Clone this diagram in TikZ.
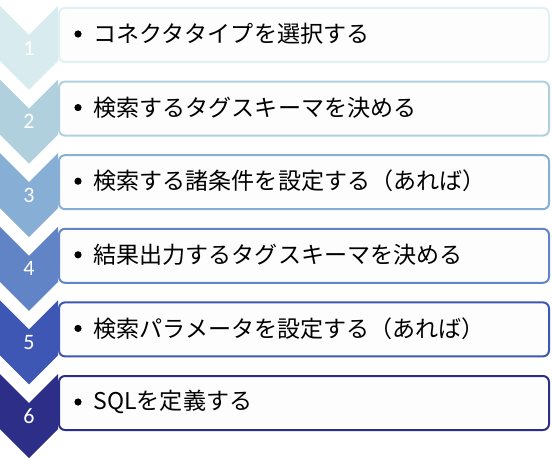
\documentclass[tikz,border=0pt]{standalone}
\usepackage{fontspec}
\setmainfont{Noto Sans CJK JP}
\newfontfamily\numfont{Carlito}
\definecolor{stepone}{RGB}{216,236,240}
\definecolor{steptwo}{RGB}{176,208,222}
\definecolor{stepthree}{RGB}{135,174,212}
\definecolor{stepfour}{RGB}{96,132,198}
\definecolor{stepfive}{RGB}{62,86,180}
\definecolor{stepsix}{RGB}{44,46,136}
\tikzset{
	itembox/.style={fill={rgb, 255:red, 253; green, 253; blue, 253 }, line width=1.5pt, rounded corners=4.5pt},
	stepnum/.style={text=white, font=\numfont\fontsize{16.5}{18}\selectfont},
	itemdot/.style={circle, fill=black, inner sep=0pt, minimum size=5.4pt},
	itemtext/.style={anchor=west, inner sep=0pt, font=\fontsize{17.3}{20}\selectfont}}
\tikzset{every picture/.style={line width=0.75pt}}
\begin{document}
\begin{tikzpicture}[x=0.75pt,y=0.75pt,yscale=-1,xscale=1]
	\path (0,0) rectangle (552,459);

	%Shape: Chevron 1
	\fill [stepone] (0,6) -- (29,35) -- (58,6) -- (58,61) -- (29,90) -- (0,61) -- cycle ;
	%Shape: Rectangle 1
	\draw [itembox, draw=stepone!80!white] (59,8) rectangle (549,62) ;
	%Shape: Chevron 2
	\fill [steptwo] (0,79.6) -- (29,108.6) -- (58,79.6) -- (58,134.6) -- (29,163.6) -- (0,134.6) -- cycle ;
	%Shape: Rectangle 2
	\draw [itembox, draw=steptwo] (59,81.6) rectangle (549,135.6) ;
	%Shape: Chevron 3
	\fill [stepthree] (0,153.2) -- (29,182.2) -- (58,153.2) -- (58,208.2) -- (29,237.2) -- (0,208.2) -- cycle ;
	%Shape: Rectangle 3
	\draw [itembox, draw=stepthree] (59,155.2) rectangle (549,209.2) ;
	%Shape: Chevron 4
	\fill [stepfour] (0,226.8) -- (29,255.8) -- (58,226.8) -- (58,281.8) -- (29,310.8) -- (0,281.8) -- cycle ;
	%Shape: Rectangle 4
	\draw [itembox, draw=stepfour] (59,228.8) rectangle (549,282.8) ;
	%Shape: Chevron 5
	\fill [stepfive] (0,300.4) -- (29,329.4) -- (58,300.4) -- (58,355.4) -- (29,384.4) -- (0,355.4) -- cycle ;
	%Shape: Rectangle 5
	\draw [itembox, draw=stepfive] (59,302.4) rectangle (549,356.4) ;
	%Shape: Chevron 6
	\fill [stepsix] (0,374) -- (29,403) -- (58,374) -- (58,429) -- (29,458) -- (0,429) -- cycle ;
	%Shape: Rectangle 6
	\draw [itembox, draw=stepsix] (59,376) rectangle (549,430) ;

	% Text Node
	\draw (29,48) node [stepnum] (num1) {1};
	% Text Node
	\draw (29,121.6) node [stepnum] (num2) {2};
	% Text Node
	\draw (29,195.2) node [stepnum] (num3) {3};
	% Text Node
	\draw (29,268.8) node [stepnum] (num4) {4};
	% Text Node
	\draw (29,342.4) node [stepnum] (num5) {5};
	% Text Node
	\draw (29,416) node [stepnum] (num6) {6};

	% Text Node
	\draw (78,34) node [itemdot] (dot1) {};
	\draw (93,34) node [itemtext] (item1) {コネクタタイプを選択する};
	% Text Node
	\draw (78,107.6) node [itemdot] (dot2) {};
	\draw (93,107.6) node [itemtext] (item2) {検索するタグスキーマを決める};
	% Text Node
	\draw (78,181.2) node [itemdot] (dot3) {};
	\draw (93,181.2) node [itemtext] (item3) {検索する諸条件を設定する（あれば）};
	% Text Node
	\draw (78,254.8) node [itemdot] (dot4) {};
	\draw (93,254.8) node [itemtext] (item4) {結果出力するタグスキーマを決める};
	% Text Node
	\draw (78,328.4) node [itemdot] (dot5) {};
	\draw (93,328.4) node [itemtext] (item5) {検索パラメータを設定する（あれば）};
	% Text Node
	\draw (78,402) node [itemdot] (dot6) {};
	\draw (93,402) node [itemtext] (item6) {SQLを定義する};

\end{tikzpicture}
\end{document}
